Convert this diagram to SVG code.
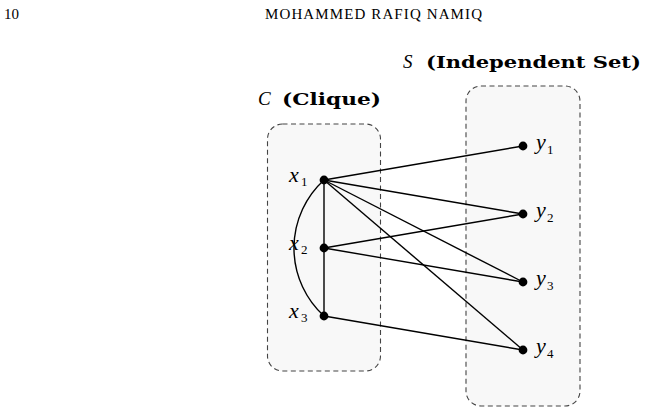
<svg xmlns="http://www.w3.org/2000/svg" width="647" height="414" viewBox="0 0 647 414">
<style>
.box{fill:#f8f8f8;stroke:#444;stroke-width:1.1;stroke-dasharray:5 3.5}
.e{stroke:#000;stroke-width:1.4;fill:none}
.n{fill:#000}
.t{font-family:"Liberation Serif",serif;fill:#000}
.m{font-style:italic;font-size:22px}
.s{font-size:13px;font-style:normal}
.ti{font-family:"Liberation Serif",serif;font-style:italic;font-size:19px}
.b{font-family:"DejaVu Serif",serif;font-weight:bold;font-size:17px}
</style>
<rect width="647" height="414" fill="#fff"/>
<text class="t" x="4" y="18.5" font-size="15">10</text>
<text class="t" x="265" y="18.5" font-size="15" textLength="217">MOHAMMED RAFIQ NAMIQ</text>
<g id="clique">
<rect class="box" x="267.5" y="124" width="113" height="247" rx="15"/>
<text class="ti" x="258" y="105">C</text>
<text class="b" x="282" y="105" textLength="99" lengthAdjust="spacingAndGlyphs">(Clique)</text>
</g>
<g id="independent">
<rect class="box" x="466" y="86" width="114" height="320" rx="15"/>
<text class="ti" x="403" y="68.3">S</text>
<text class="b" x="426" y="68.3" textLength="215" lengthAdjust="spacingAndGlyphs">(Independent Set)</text>
</g>
<g id="connectors">
<line class="e" x1="324" y1="180" x2="523" y2="146"/>
<line class="e" x1="324" y1="180" x2="523" y2="214"/>
<line class="e" x1="324" y1="180" x2="523" y2="282"/>
<line class="e" x1="324" y1="180" x2="523" y2="350"/>
<line class="e" x1="324" y1="180" x2="324" y2="316"/>
<line class="e" x1="324" y1="248" x2="523" y2="214"/>
<line class="e" x1="324" y1="248" x2="523" y2="282"/>
<line class="e" x1="324" y1="316" x2="523" y2="350"/>
<path class="e" d="M324,180 A92,92 0 0 0 324,316"/>
</g>
<g id="x1"><circle class="n" cx="324" cy="180" r="4.4"/><text class="t m" x="289" y="182">x<tspan class="s" x="301" dy="4">1</tspan></text></g>
<g id="x2"><circle class="n" cx="324" cy="248" r="4.4"/><text class="t m" x="289" y="250">x<tspan class="s" x="301" dy="4">2</tspan></text></g>
<g id="x3"><circle class="n" cx="324" cy="316" r="4.4"/><text class="t m" x="289" y="318">x<tspan class="s" x="301" dy="4">3</tspan></text></g>
<g id="y1"><circle class="n" cx="523" cy="146" r="4.4"/><text class="t m" x="536" y="149">y<tspan class="s" x="547" dy="5">1</tspan></text></g>
<g id="y2"><circle class="n" cx="523" cy="214" r="4.4"/><text class="t m" x="536" y="217">y<tspan class="s" x="547" dy="5">2</tspan></text></g>
<g id="y3"><circle class="n" cx="523" cy="282" r="4.4"/><text class="t m" x="536" y="285">y<tspan class="s" x="547" dy="5">3</tspan></text></g>
<g id="y4"><circle class="n" cx="523" cy="350" r="4.4"/><text class="t m" x="536" y="353">y<tspan class="s" x="547" dy="5">4</tspan></text></g>
</svg>
